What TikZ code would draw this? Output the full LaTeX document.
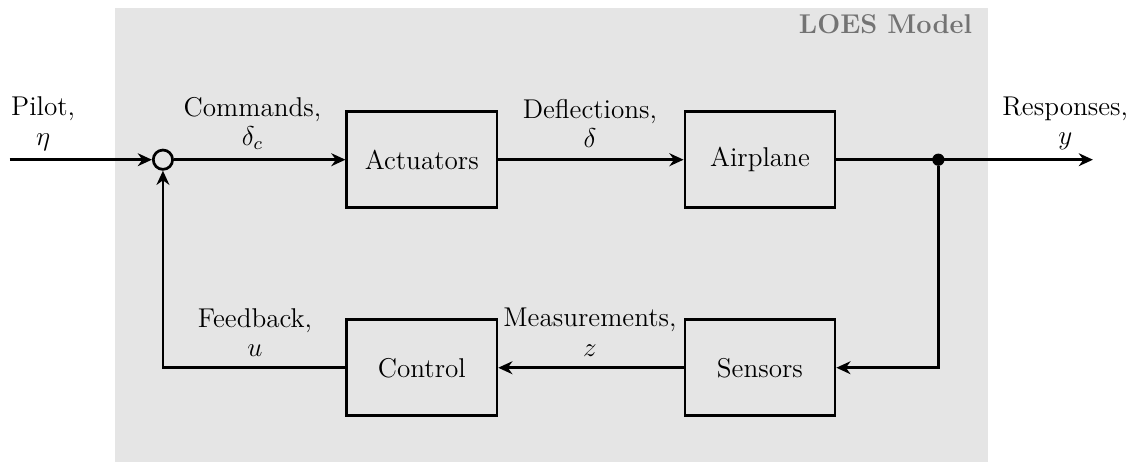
\documentclass[tikz,border=0pt,12pt]{standalone}
\usepackage{amsmath}
\usepackage{amssymb}
\usepackage{tikz}
\usetikzlibrary{arrows.meta, positioning}

\begin{document}
\begin{tikzpicture}[
    block/.style={draw, very thick, minimum width=2.33cm, minimum height=1.49cm},
    sumnode/.style={draw, very thick, circle, minimum size=0.3cm, inner sep=0pt},
    signal/.style={align=center, inner sep=1pt},
    >={Stealth[length=2.2mm, width=2mm]}
]
    \useasboundingbox (0,0) rectangle (17.67,7.17);
    % model region
    \fill[black!10] (1.79,0) rectangle (15.34,7.05);
    \node[anchor=east, text=black!55, font=\bfseries] (loes) at (15.24,6.79) {LOES Model};

    % blocks
    \node[sumnode] (sum) at (2.53,4.69) {};
    \node[block] (act) at (6.55,4.69) {Actuators};
    \node[block] (plane) at (11.80,4.69) {Airplane};
    \node[block] (sens) at (11.80,1.46) {Sensors};
    \node[block] (ctrl) at (6.55,1.46) {Control};
    \node[circle, fill, inner sep=0pt, minimum size=0.19cm] (split) at (14.57,4.69) {};
    \coordinate (pilot) at (0.15,4.69);
    \coordinate (out) at (16.97,4.69);

    % signals
    \draw[very thick, ->] (pilot) -- (sum);
    \draw[very thick, ->] (sum) -- (act);
    \draw[very thick, ->] (act) -- (plane);
    \draw[very thick, ->] (plane) -- (out);
    \draw[very thick, ->] (split) |- (sens);
    \draw[very thick, ->] (sens) -- (ctrl);
    \draw[very thick, ->] (ctrl) -| (sum);

    % labels
    \node[signal] (lpilot) at (0.67,5.25) {Pilot,\\[-1.5pt]$\eta$};
    \node[signal] (lcmd) at (3.92,5.25) {Commands,\\[-1.5pt]$\delta_c$};
    \node[signal] (ldefl) at (9.16,5.25) {Deflections,\\[-1.5pt]$\delta$};
    \node[signal] (lresp) at (16.54,5.25) {Responses,\\[-1.5pt]$y$};
    \node[signal] (lfb) at (3.96,2.01) {Feedback,\\[-1.5pt]$u$};
    \node[signal] (lmeas) at (9.16,2.01) {Measurements,\\[-1.5pt]$z$};
\end{tikzpicture}
\end{document}
